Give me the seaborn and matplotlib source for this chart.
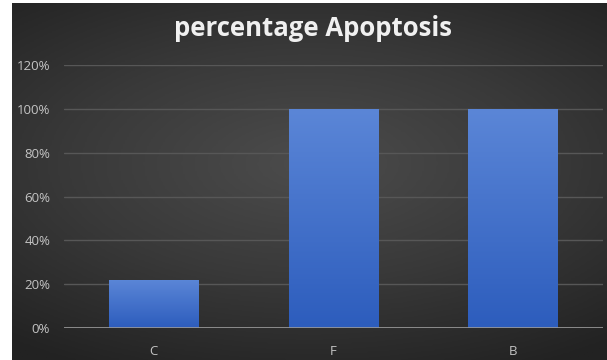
import numpy as np
import pandas as pd
import matplotlib
matplotlib.use("Agg")
import matplotlib.pyplot as plt
from matplotlib import ticker
import seaborn as sns

groups = ["C", "F", "B"]
apoptosis = [0.22, 1.00, 1.00]
y_ticks = [0, 0.2, 0.4, 0.6, 0.8, 1.0, 1.2]

df = pd.DataFrame({"group": groups, "apoptosis": apoptosis})

sns.set_theme(style="dark")
plt.rcParams["font.family"] = ["Open Sans", "DejaVu Sans"]

W, H = 607, 360
fig = plt.figure(figsize=(W / 100, H / 100), dpi=100)
fig.patch.set_facecolor("white")

# dark chart area with a soft radial gradient
bg = fig.add_axes([12 / W, 0, 1 - 12 / W, (H - 3) / H])
yy, xx = np.mgrid[-1:1:200j, -1:1:300j]
r = np.sqrt((xx * 0.8) ** 2 + ((yy + 0.1) * 1.0) ** 2)
bg_cmap = plt.cm.colors.LinearSegmentedColormap.from_list(
    "bg", ["#4c4c4c", "#393939", "#222222"])
bg.imshow(np.clip(r, 0, 1.3), cmap=bg_cmap, aspect="auto", extent=[0, 1, 0, 1],
          vmin=0, vmax=1.3)
bg.set_axis_off()

ax = fig.add_axes([64 / W, (H - 328) / H, (603 - 64) / W, (328 - 65) / H])
ax.set_facecolor("none")
sns.barplot(data=df, x="group", y="apoptosis", color="#3f6cc8", width=0.5,
            saturation=1, linewidth=0, ax=ax, zorder=3)

# vertical shading on the bars
grad = np.linspace(0, 1, 100).reshape(-1, 1)
bar_cmap = plt.cm.colors.LinearSegmentedColormap.from_list("bar", ["#2d5dbd", "#5b86d7"])
for p in ax.patches:
    x0, y0 = p.get_x(), p.get_y()
    w, h = p.get_width(), p.get_height()
    im = ax.imshow(grad, cmap=bar_cmap, origin="lower", aspect="auto",
                   extent=[x0, x0 + w, y0, y0 + h], zorder=4)
    im.set_clip_path(p)

ax.set_xlim(-0.5, 2.5)
ax.set_ylim(0, 1.2)
ax.set_yticks(y_ticks)
ax.yaxis.set_major_formatter(ticker.PercentFormatter(1.0, decimals=0))
ax.grid(axis="y", color="#575757", linewidth=1.0, zorder=0)
ax.grid(axis="x", visible=False)
for s in ax.spines.values():
    s.set_visible(False)
ax.axhline(0, color="#9a9a9a", linewidth=1.2, zorder=5)
ax.tick_params(axis="both", colors="#c4c4c4", labelsize=9.5, length=0)
ax.tick_params(axis="y", pad=10)
ax.tick_params(axis="x", pad=12)
ax.set_xlabel(None)
ax.set_ylabel(None)

fig.text(313 / W, (H - 29) / H, "percentage Apoptosis", color="#f0f0f0",
         fontsize=18.5, fontweight="bold", ha="center", va="center")

fig.savefig("out.png", dpi=100)
